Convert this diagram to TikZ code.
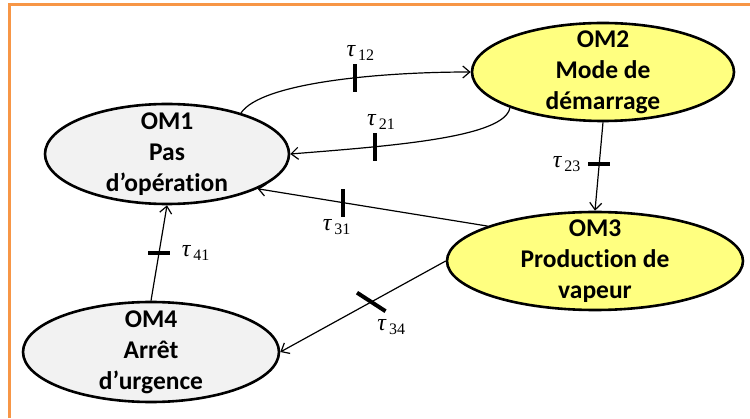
\documentclass[tikz,border=0pt]{standalone}
\usepackage{fontspec}
\setmainfont[Ligatures=NoCommon]{Carlito}
\newfontfamily\timesfont{Liberation Serif}
\usetikzlibrary{shapes.geometric,positioning,arrows.meta}

\definecolor{frameorange}{HTML}{F79646}
\definecolor{modeyellow}{HTML}{FFFF80}
\definecolor{modegray}{HTML}{F2F2F2}

% transition rate tau_ij
\newcommand{\rate}[1]{{\timesfont\itshape τ}\kern3pt\raisebox{-4pt}{\timesfont\fontsize{16}{16}\selectfont #1}}

\tikzset{
	mode/.style={ellipse, draw=black, line width=2.6pt, inner sep=0pt},
	idle/.style={mode, fill=modegray},
	active/.style={mode, fill=modeyellow},
	modetext/.style={font=\bfseries\fontsize{25.5}{31}\selectfont, align=center},
	trans/.style={line width=1.2pt, -{Straight Barb[length=7pt,width=12pt]}},
	vtick/.style={fill=black, inner sep=0pt, minimum width=4pt, minimum height=28pt},
	htick/.style={fill=black, inner sep=0pt, minimum width=22pt, minimum height=4pt},
	ratelabel/.style={inner sep=1pt, font=\timesfont\fontsize{24}{24}\selectfont}
}

\begin{document}
\begin{tikzpicture}[x=1pt, y=1pt]
		%%%%% START %%%%%
		\useasboundingbox (0,0) rectangle (750,418);
		
		\draw[frameorange, line width=3pt] (9,0) -- (9,413) -- (750,413);
		
		% operating modes
		\node[idle, minimum width=244pt, minimum height=100pt,
			label={[modetext]center:{OM1\\Pas\\d’opération}}] (om1) at (167,264) {};
		\node[active, minimum width=262pt, minimum height=98pt,
			label={[modetext]center:{OM2\\Mode de\\démarrage}}] (om2) at (603,346) {};
		\node[active, minimum width=296pt, minimum height=98pt,
			label={[modetext]center:{OM3\\Production de\\vapeur}}] (om3) at (595,157) {};
		\node[idle, minimum width=256pt, minimum height=100pt,
			label={[modetext]center:{OM4\\Arrêt\\d’urgence}}] (om4) at (151,66) {};
		
		% transitions
		\draw[trans] (om1.29) .. controls +(20,30) and +(-93,0) .. node[vtick, pos=0.6] (t12) {} (om2.west);
		\draw[trans] (om2.201) .. controls +(-5,-30) and +(100,8) .. node[vtick, pos=0.72] (t21) {} (om1.east);
		\draw[trans] (om2.south) -- node[htick, pos=0.47] (t23) {} (om3.north);
		\draw[trans] (om3.162) -- node[vtick, pos=0.63] (t31) {} (om1.-21);
		\draw[trans] (om4.north) -- node[htick] (t41) {} (om1.south);
		\draw[trans] (om3.west) -- node[vtick, rotate=57, minimum height=34pt, pos=0.45] (t34) {} (om4.east);
		
		\node[ratelabel, above=1pt of t12, xshift=5pt] (l12) {\rate{12}};
		\node[ratelabel, above=1pt of t21, xshift=6pt] (l21) {\rate{21}};
		\node[ratelabel, left=6pt of t23] (l23) {\rate{23}};
		\node[ratelabel, below=1pt of t31, xshift=-6pt] (l31) {\rate{31}};
		\node[ratelabel, right=10pt of t41] (l41) {\rate{41}};
		\node[ratelabel, below=16pt of t34.center, xshift=20pt] (l34) {\rate{34}};
		
		%%%%% END %%%%%
\end{tikzpicture}
\end{document}
